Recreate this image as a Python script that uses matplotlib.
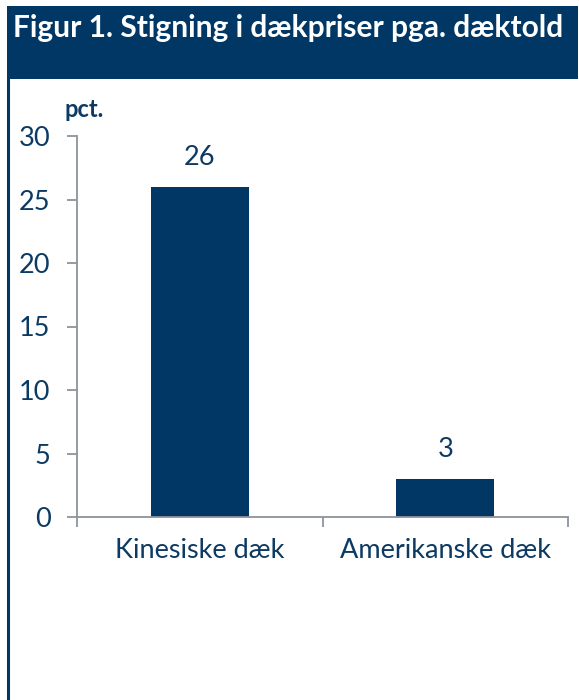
import matplotlib
matplotlib.use("Agg")
import matplotlib.pyplot as plt
from matplotlib.patches import Rectangle
from matplotlib.lines import Line2D

# data
categories = ["Kinesiske dæk", "Amerikanske dæk"]
values = [26, 3]
title = "Figur 1. Stigning i dækpriser pga. dæktold"
unit = "pct."
yticks = [0, 5, 10, 15, 20, 25, 30]

NAVY = "#003764"
TEXT = "#0d3a62"
GREY = "#8d939c"

plt.rcParams["font.family"] = ["Lato", "DejaVu Sans"]

W, H = 579, 700
fig = plt.figure(figsize=(W / 100, H / 100), dpi=100)
fig.patch.set_facecolor("white")

# title band + frame line
fig.add_artist(Rectangle((7 / W, 1 - 79 / H), 571 / W, 73 / H,
                         transform=fig.transFigure, color=NAVY, lw=0))
fig.add_artist(Line2D([8 / W, 8 / W], [0, 1 - 79 / H], transform=fig.transFigure,
                      color=NAVY, lw=2.2))
fig.text(13 / W, 1 - 28 / H, title, color="white", fontsize=21.5, fontweight="bold",
         va="center", ha="left")

ax = fig.add_axes([77 / W, 1 - 517 / H, (568 - 77) / W, (517 - 136) / H])
x = list(range(len(categories)))
ax.bar(x, values, width=0.4, color=NAVY)
for xi, v in zip(x, values):
    ax.annotate(f"{v}", (xi, v), xytext=(0, 12), textcoords="offset points",
                ha="center", va="bottom", fontsize=19.5, color=TEXT)

ax.set_xlim(-0.5, len(categories) - 0.5)
ax.set_ylim(0, 30)
ax.set_yticks(yticks)
ax.set_xticks(x)
ax.set_xticklabels(categories)
ax.set_xticks([i - 0.5 for i in range(len(categories) + 1)], minor=True)

for s in ["top", "right"]:
    ax.spines[s].set_visible(False)
for s in ["left", "bottom"]:
    ax.spines[s].set_color(GREY)
    ax.spines[s].set_linewidth(1.3)

ax.tick_params(axis="y", direction="out", length=7, width=1.3, color=GREY,
               labelsize=19.5, labelcolor=TEXT, pad=12)
ax.tick_params(axis="x", which="major", length=0, labelsize=19.5, labelcolor=TEXT, pad=15)
ax.tick_params(axis="x", which="minor", direction="out", length=7, width=1.3, color=GREY)

fig.text(65 / W, 1 - 117 / H, unit, color=TEXT, fontsize=17, fontweight="bold",
         ha="left", va="baseline")

fig.savefig("out.png", dpi=100)
